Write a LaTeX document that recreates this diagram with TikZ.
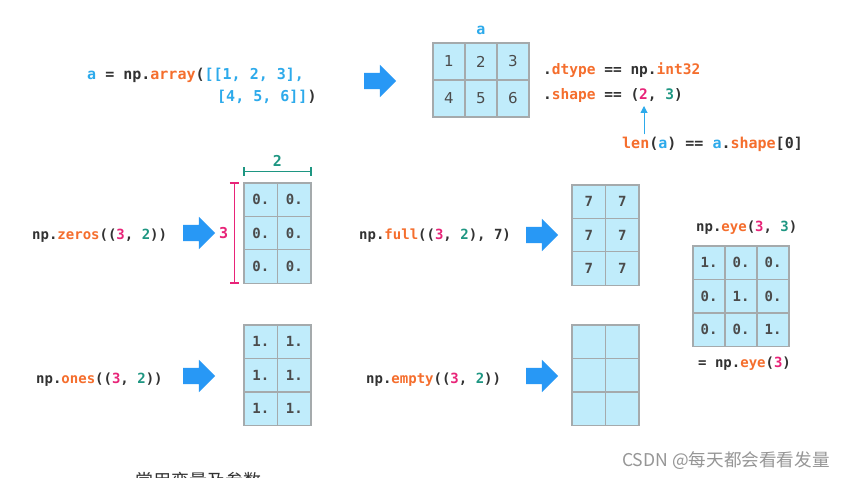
\documentclass[tikz,border=0pt]{standalone}
\usepackage{fontspec}
\setmonofont{DejaVu Sans Mono}
\newfontfamily\cjkfont{Noto Sans CJK SC}
\newfontfamily\numfont{DejaVu Sans}
\usetikzlibrary{shapes.arrows, arrows.meta, positioning}

\definecolor{npblue}{RGB}{45,170,235}
\definecolor{nporange}{RGB}{245,110,45}
\definecolor{nppink}{RGB}{232,35,120}
\definecolor{npteal}{RGB}{30,150,130}
\definecolor{nptext}{RGB}{50,50,50}
\definecolor{celltext}{RGB}{75,75,75}
\definecolor{cellfill}{RGB}{192,236,251}
\definecolor{cellline}{RGB}{165,170,172}
\definecolor{arrowblue}{RGB}{40,152,245}
\definecolor{markgray}{RGB}{150,150,150}

\newcommand{\ora}[1]{\textcolor{nporange}{#1}}
\newcommand{\blu}[1]{\textcolor{npblue}{#1}}
\newcommand{\pnk}[1]{\textcolor{nppink}{#1}}
\newcommand{\grn}[1]{\textcolor{npteal}{#1}}

\tikzset{
  code/.style={anchor=base west, inner sep=0pt, text=nptext,
    font=\fontsize{14}{16}\selectfont\ttfamily\bfseries},
  bigcode/.style={code, font=\fontsize{15}{17}\selectfont\ttfamily\bfseries},
  cell/.style={draw=cellline, fill=cellfill, line width=1.2pt, inner sep=0pt,
    text=celltext, font=\fontsize{14}{16}\selectfont\ttfamily\bfseries},
  bigarrow/.style={single arrow, fill=arrowblue, draw=none, inner xsep=0pt, inner ysep=8pt,
    minimum height=32pt, single arrow head extend=8pt},
  dimline/.style={line width=1.6pt, {Bar[width=9pt]}-{Bar[width=9pt]}},
}

\begin{document}
\begin{tikzpicture}[x=1pt, y=-1pt]
  \useasboundingbox[fill=white] (0,0) rectangle (845,478);

  % np.array
  \node[bigcode] (arr1) at (87,80) {\blu{a} = np.\ora{array}(\blu{[[1, 2, 3],}};
  \node[bigcode] (arr2) at (217,102) {\blu{[4, 5, 6]]})};
  \node[bigarrow] (arrowA) at (376,81) {};
  \foreach \r/\row in {0/{1,2,3}, 1/{4,5,6}}
    \foreach \v [count=\c from 0] in \row
      \node[cell, minimum width=32pt, minimum height=37pt, font=\fontsize{15}{17}\selectfont\numfont]
        (a-\r-\c) at ({449+32*\c}, {61.5+37*\r}) {\v};
  \node[text=npblue, font=\fontsize{15}{17}\selectfont\ttfamily\bfseries, above=4pt of a-0-1] (aname) {a};
  \node[code, font=\fontsize{14.5}{17}\selectfont\ttfamily\bfseries] (dtype) at (543,75) {.\ora{dtype} == np.\ora{int32}};
  \node[code, font=\fontsize{14.5}{17}\selectfont\ttfamily\bfseries] (shape) at (543,100) {.\ora{shape} == (\pnk{2}, \grn{3})};
  \node[bigcode] (len) at (622,149) {\ora{len}(\blu{a}) == \blu{a}.\ora{shape}[0]};
  \coordinate (rows) at (644,106);
  \draw[npblue, line width=1pt, -{Triangle[width=7pt, length=7pt]}] ([yshift=3pt]len.north -| rows) -- (rows);

  % np.zeros
  \node[code] (zeros) at (32,240) {np.\ora{zeros}((\pnk{3}, \grn{2}))};
  \node[bigarrow] (arrowZ) at (195,233) {};
  \foreach \r in {0,1,2}
    \foreach \c in {0,1}
      \node[cell, minimum width=33.5pt, minimum height=33.4pt] (zeros-\r-\c) at ({260.75+33.5*\c}, {199.7+33.4*\r}) {0.};
  \draw[dimline, npteal] ([yshift=11pt]zeros-0-0.north west) -- ([yshift=11pt]zeros-0-1.north east)
    node[midway, above=1pt, font=\fontsize{15}{17}\selectfont\ttfamily\bfseries] (ncols) {2};
  \draw[dimline, nppink] ([xshift=-9pt]zeros-0-0.north west) -- ([xshift=-9pt]zeros-2-0.south west)
    node[midway, left=2pt, font=\fontsize{15}{17}\selectfont\ttfamily\bfseries] (nrows) {3};

  % np.full
  \node[code] (full) at (359,240) {np.\ora{full}((\pnk{3}, \grn{2}), 7)};
  \node[bigarrow] (arrowF) at (538,235) {};
  \foreach \r in {0,1,2}
    \foreach \c in {0,1}
      \node[cell, minimum width=33.5pt, minimum height=33.4pt] (full-\r-\c) at ({588.75+33.5*\c}, {201.7+33.4*\r}) {7};

  % np.eye
  \node[code] (eye) at (696,232) {np.\ora{eye}(\pnk{3}, \grn{3})};
  \foreach \r in {0,1,2}
    \foreach \c in {0,1,2}
      \node[cell, minimum width=32pt, minimum height=33.5pt] (eye-\r-\c) at ({709+32*\c}, {262.75+33.5*\r})
        {\ifnum\r=\c\relax 1.\else 0.\fi};
  \node[code] (eye3) at (698,367) {= np.\ora{eye}(\pnk{3})};

  % np.ones
  \node[code] (ones) at (36,383) {np.\ora{ones}((\pnk{3}, \grn{2}))};
  \node[bigarrow] (arrowO) at (195,376) {};
  \foreach \r in {0,1,2}
    \foreach \c in {0,1}
      \node[cell, minimum width=33.5pt, minimum height=33.5pt] (ones-\r-\c) at ({260.75+33.5*\c}, {341.75+33.5*\r}) {1.};

  % np.empty
  \node[code] (empty) at (366,383) {np.\ora{empty}((\pnk{3}, \grn{2}))};
  \node[bigarrow] (arrowE) at (538,376) {};
  \foreach \r in {0,1,2}
    \foreach \c in {0,1}
      \node[cell, minimum width=33.5pt, minimum height=33.5pt] (empty-\r-\c) at ({588.75+33.5*\c}, {341.75+33.5*\r}) {};

  % page texts
  \node[anchor=base west, inner sep=0pt, text=markgray, font=\fontsize{17.6}{20}\selectfont\cjkfont] (mark) at (622,466) {CSDN @每天都会看看发量};
  \node[anchor=base west, inner sep=0pt, text=nptext, font=\fontsize{18}{20}\selectfont\cjkfont] (caption) at (135,487) {常用变量及参数};
\end{tikzpicture}
\end{document}
